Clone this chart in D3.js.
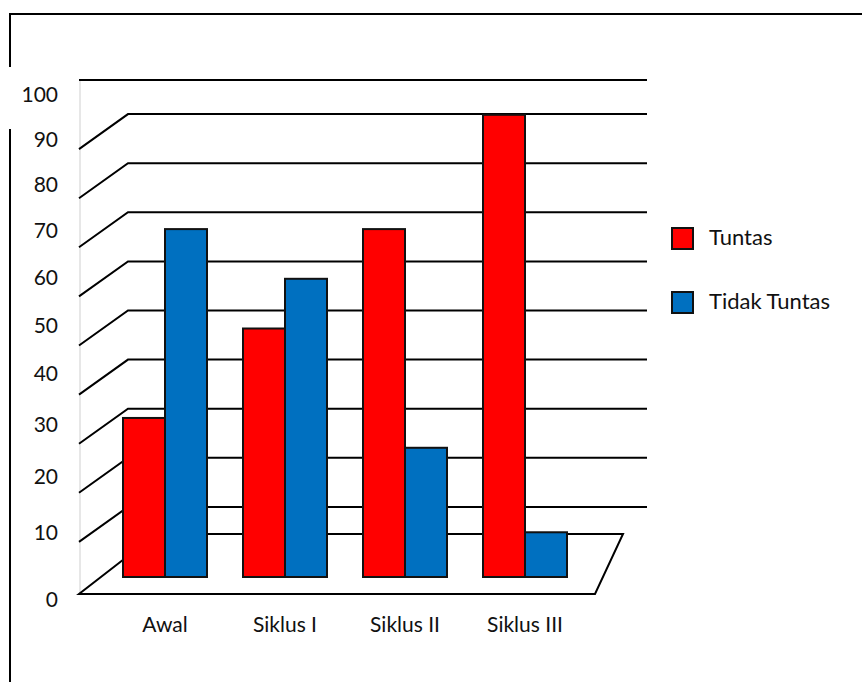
<!DOCTYPE html>
<html>
<head>
<meta charset="utf-8">
<script src="https://cdn.jsdelivr.net/npm/d3@7"></script>
<style>
  html, body { margin: 0; padding: 0; background: #fff; }
  svg { display: block; }
  text { font-family: Lato, "Open Sans", sans-serif; fill: #111; }
</style>
</head>
<body>
<script>
// Data
const categories = ["Awal", "Siklus I", "Siklus II", "Siklus III"];
const tuntas = [32, 50, 70, 93];
const tidakTuntas = [70, 60, 26, 9];
const seriesNames = ["Tuntas", "Tidak Tuntas"];
const seriesColors = ["#FF0000", "#0070C0"];
const tickValues = [0, 10, 20, 30, 40, 50, 60, 70, 80, 90, 100];

const W = 862, H = 682;

// Layout of the pseudo-3D plot box
const box = {
  left: 79,        // front-left edge of the wall
  back: 128,       // back wall left edge
  top: 80,         // top border of plot
  right: 647,      // right end of wall gridlines
  base: 577,       // bar baseline
  floorFront: 594,
  floorBack: 534,
  floorBackRight: 623,
  floorFrontRight: 595
};

const svg = d3.select("body").append("svg")
  .attr("width", W).attr("height", H);

svg.append("rect").attr("width", W).attr("height", H).attr("fill", "#fff");

// Outer frame
svg.append("path")
  .attr("d", `M10,67V14H${W}`)
  .attr("fill", "none").attr("stroke", "#000").attr("stroke-width", 2);
svg.append("line")
  .attr("x1", 10).attr("x2", 10).attr("y1", 129).attr("y2", H)
  .attr("stroke", "#000").attr("stroke-width", 2);

// Scales
const yWall = d3.scaleLinear().domain([0, 100]).range([556, 65]);
const yBar = d3.scaleLinear().domain([0, 100]).range([box.base, box.top]);
const yLabel = d3.scalePow().exponent(0.88).domain([0, 100]).range([599.5, 95]);

const x0 = d3.scaleBand().domain(categories)
  .range([105, 585]).paddingInner(0.3).paddingOuter(0.15);
const x1 = d3.scaleBand().domain(seriesNames).range([0, x0.bandwidth()]);

const depthY = 35;

// Faint left wall edge
svg.append("line")
  .attr("x1", box.left + 1).attr("x2", box.left + 1)
  .attr("y1", box.top).attr("y2", box.floorFront)
  .attr("stroke", "#cfcfcf").attr("stroke-width", 1);

const grid = svg.append("g")
  .attr("fill", "none").attr("stroke", "#000").attr("stroke-width", 2);

// Top border of the plot
grid.append("line")
  .attr("x1", box.left).attr("x2", box.right)
  .attr("y1", box.top).attr("y2", box.top);

// Wall gridlines with side-wall diagonals
const inner = tickValues.filter(v => v > 0 && v < 100);
grid.selectAll("path.gl").data(inner).join("path")
  .attr("class", "gl")
  .attr("d", v => `M${box.left},${yWall(v) + depthY}L${box.back},${yWall(v)}H${box.right}`);

// Floor
grid.append("path")
  .attr("d", `M${box.back},${box.floorBack}H${box.floorBackRight}` +
             `L${box.floorFrontRight},${box.floorFront}H${box.left}` +
             `L${box.back},${yWall(0)}`);

// Bars
const rows = categories.map((c, i) => ({ cat: c, values: [tuntas[i], tidakTuntas[i]] }));
const groups = svg.selectAll("g.cat").data(rows).join("g")
  .attr("class", "cat")
  .attr("transform", d => `translate(${x0(d.cat)},0)`);

groups.selectAll("rect").data(d => d.values.map((v, j) => ({ name: seriesNames[j], v, j })))
  .join("rect")
  .attr("x", d => x1(d.name))
  .attr("width", x1.bandwidth())
  .attr("y", d => yBar(d.v))
  .attr("height", d => yBar(0) - yBar(d.v))
  .attr("fill", d => seriesColors[d.j])
  .attr("stroke", "#111").attr("stroke-width", 2);

// Value axis labels
const axis = d3.axisLeft(yLabel).tickValues(tickValues).tickSize(0).tickPadding(0);
const ag = svg.append("g").attr("transform", "translate(58,0)").call(axis);
ag.select(".domain").remove();
ag.selectAll("text")
  .attr("font-size", 21)
  .attr("font-family", "Lato, 'Open Sans', sans-serif")
  .attr("fill", "#111");

// Category labels
svg.selectAll("text.cat").data(categories).join("text")
  .attr("class", "cat")
  .attr("x", d => x0(d) + x0.bandwidth() / 2)
  .attr("y", 632)
  .attr("text-anchor", "middle")
  .attr("font-size", 21)
  .text(d => d);

// Legend
const legend = svg.append("g").attr("transform", "translate(672,228)");
const li = legend.selectAll("g").data(seriesNames).join("g")
  .attr("transform", (d, i) => `translate(0,${i * 64})`);
li.append("rect")
  .attr("width", 21).attr("height", 21)
  .attr("fill", (d, i) => seriesColors[i])
  .attr("stroke", "#111").attr("stroke-width", 2);
li.append("text")
  .attr("x", 37).attr("y", 17)
  .attr("font-size", 22)
  .text(d => d);
</script>
</body>
</html>
